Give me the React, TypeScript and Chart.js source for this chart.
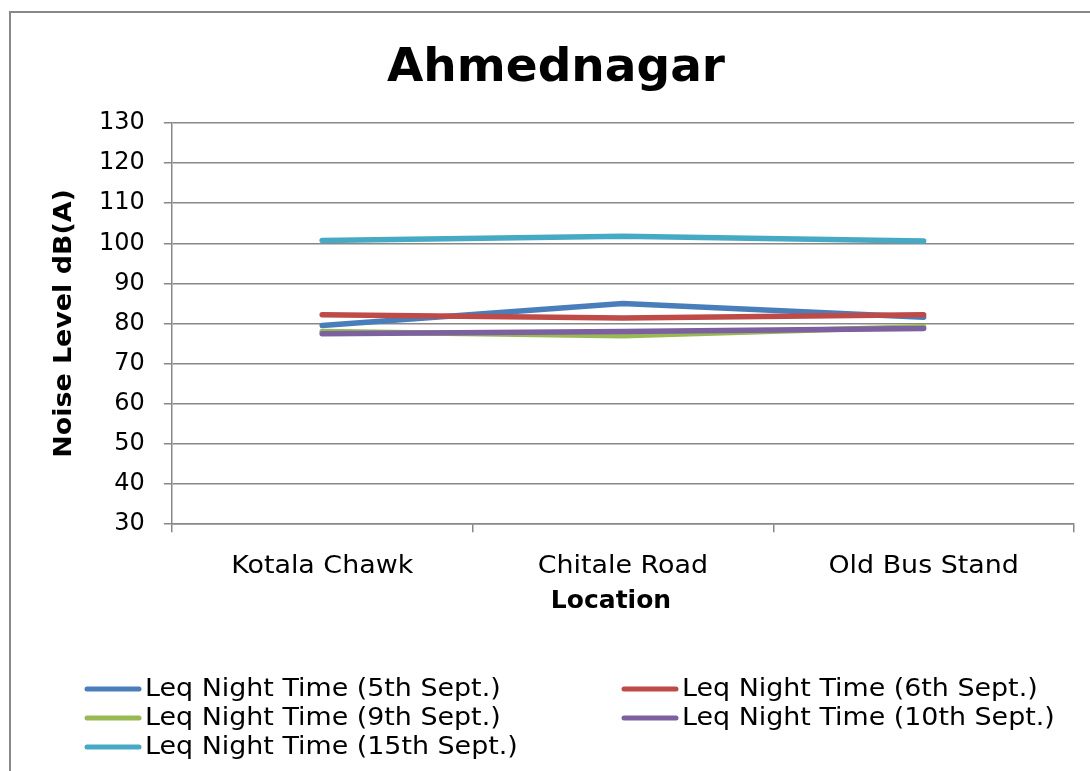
import React, { useEffect, useRef } from "react";
import { Chart, registerables } from "chart.js";

Chart.register(...registerables);

const chartTitle = "Ahmednagar";
const xAxisTitle = "Location";
const yAxisTitle = "Noise Level dB(A)";
const locations = ["Kotala Chawk", "Chitale Road", "Old Bus Stand"];
const seriesNames = [
  "Leq Night Time (5th Sept.)",
  "Leq Night Time (6th Sept.)",
  "Leq Night Time (9th Sept.)",
  "Leq Night Time (10th Sept.)",
  "Leq Night Time (15th Sept.)",
];
const sept5 = [79.5, 85, 81.6];
const sept6 = [82.2, 81.4, 82.2];
const sept9 = [78, 77, 79.2];
const sept10 = [77.5, 78, 78.8];
const sept15 = [100.7, 101.8, 100.6];
const seriesValues = [sept5, sept6, sept9, sept10, sept15];
const seriesColors = ["#4a7ebb", "#be4b48", "#98b954", "#7d60a0", "#46aac5"];
const yMin = 30;
const yMax = 130;
const yStep = 10;

const FONT = "'DejaVu Sans', Verdana, sans-serif";
const GRID = "#888888";
const STRETCH = 1.12;

const decorPlugin = {
  id: "decor",
  afterDraw(chart: any) {
    const ctx = chart.ctx as CanvasRenderingContext2D;
    ctx.save();
    // outer frame
    ctx.strokeStyle = GRID;
    ctx.lineWidth = 2;
    ctx.strokeRect(10, 12, 1200, 900);
    // title
    ctx.fillStyle = "#000";
    ctx.font = `bold 47px ${FONT}`;
    ctx.textAlign = "center";
    ctx.textBaseline = "alphabetic";
    ctx.fillText(chartTitle, 556, 81);
    // x axis title
    ctx.font = `bold 25px ${FONT}`;
    ctx.fillText(xAxisTitle, 611, 608);
    // x category labels (wider face)
    const xs = chart.scales.x;
    ctx.font = `24px ${FONT}`;
    ctx.textBaseline = "middle";
    (chart.data.labels as string[]).forEach((lab: string, i: number) => {
      ctx.save();
      ctx.translate(xs.getPixelForValue(i), 567);
      ctx.scale(STRETCH, 1);
      ctx.fillText(lab, 0, 0);
      ctx.restore();
    });
    ctx.textBaseline = "alphabetic";
    // y axis title
    ctx.save();
    ctx.translate(71, 323.5);
    ctx.rotate(-Math.PI / 2);
    ctx.scale(STRETCH, 1);
    ctx.font = `bold 24px ${FONT}`;
    ctx.fillText(yAxisTitle, 0, 0);
    ctx.restore();
    // legend
    const cols = [85, 622];
    const rows = [689, 718, 747];
    chart.data.datasets.forEach((ds: any, i: number) => {
      const col = cols[i % 2];
      const row = rows[Math.floor(i / 2)];
      ctx.strokeStyle = ds.borderColor;
      ctx.lineWidth = 5;
      ctx.lineCap = "round";
      ctx.beginPath();
      ctx.moveTo(col + 2, row);
      ctx.lineTo(col + 54, row);
      ctx.stroke();
      ctx.save();
      ctx.translate(col + 60, row);
      ctx.scale(STRETCH, 1);
      ctx.font = `24px ${FONT}`;
      ctx.textAlign = "left";
      ctx.textBaseline = "middle";
      ctx.fillStyle = "#000";
      ctx.fillText(ds.label, 0, 1);
      ctx.restore();
    });
    ctx.restore();
  },
};

export default function App() {
  const ref = useRef<HTMLCanvasElement | null>(null);
  useEffect(() => {
    if (!ref.current) return;
    const chart = new Chart(ref.current, {
      type: "line",
      data: {
        labels: locations,
        datasets: seriesValues.map((vals, i) => ({
          label: seriesNames[i],
          data: vals,
          borderColor: seriesColors[i],
          backgroundColor: seriesColors[i],
          borderWidth: 5.5,
          borderCapStyle: "round" as const,
          borderJoinStyle: "round" as const,
          pointRadius: 0,
          pointHoverRadius: 0,
          tension: 0,
          fill: false,
          order: seriesValues.length - i,
        })),
      },
      options: {
        animation: false,
        responsive: false,
        maintainAspectRatio: false,
        layout: { padding: { left: 80, right: 16, top: 123, bottom: 170 } },
        plugins: {
          legend: { display: false },
          title: { display: false },
          tooltip: { enabled: false },
        },
        scales: {
          x: {
            type: "category",
            offset: true,
            grid: {
              offset: true,
              drawOnChartArea: false,
              drawTicks: true,
              tickLength: 8,
              color: GRID,
              lineWidth: 1.5,
            },
            border: { display: true, color: GRID, width: 1.5 },
            ticks: {
              color: "rgba(0,0,0,0)",
              font: { family: FONT, size: 24 },
              padding: 20,
              maxRotation: 0,
              autoSkip: false,
            },
          },
          y: {
            min: yMin,
            max: yMax,
            grid: {
              color: GRID,
              lineWidth: 1.5,
              drawTicks: true,
              tickLength: 8,
            },
            border: { display: true, color: GRID, width: 1.5 },
            ticks: {
              stepSize: yStep,
              color: "#000",
              font: { family: FONT, size: 24 },
              padding: 19,
            },
          },
        },
      },
      plugins: [decorPlugin],
    });
    return () => chart.destroy();
  }, []);
  return (
    <div style={{ position: "fixed", left: 0, top: 0, width: 1090, height: 771, background: "#fff" }}>
      <canvas ref={ref} width={1090} height={771} style={{ display: "block" }} />
    </div>
  );
}
